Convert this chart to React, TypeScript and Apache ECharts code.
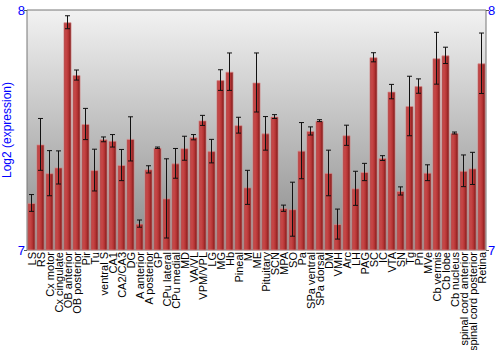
import React, { useEffect, useRef } from "react";
import * as echarts from "echarts";

const categories = [
  "LS", "RS", "Cx motor", "Cx cingulate", "OB anterior", "OB posterior", "Pir", "Tu",
  "ventral S", "CA1", "CA2/CA3", "DG", "A anterior", "A posterior", "GP", "CPu lateral",
  "CPu medial", "MD", "VA/VL", "VPM/VPL", "LG", "MG", "Hb", "Pineal", "M", "ME",
  "Pituitary", "SCN", "MPA", "SO", "Pa", "SPa ventral", "SPa dorsal", "DM", "VMH", "Arc",
  "LH", "PAG", "SC", "IC", "VTA", "SN", "Tg", "Pn", "MVe", "Cb vermis", "Cb lobe",
  "Cb nucleus", "spinal cord anterior", "spinal cord posterior", "Retina",
];

const values = [
  7.196, 7.44, 7.32, 7.344, 7.949, 7.729, 7.525, 7.333,
  7.461, 7.455, 7.354, 7.463, 7.11, 7.336, 7.426, 7.215,
  7.361, 7.424, 7.47, 7.54, 7.412, 7.708, 7.743, 7.52, 7.261, 7.698,
  7.486, 7.556, 7.174, 7.17, 7.414, 7.496, 7.539, 7.321, 7.108, 7.478,
  7.257, 7.325, 7.803, 7.383, 7.66, 7.246, 7.6, 7.683, 7.322, 7.799, 7.811,
  7.4875, 7.33, 7.34, 7.778,
];

const errors = [
  0.035, 0.108, 0.094, 0.069, 0.027, 0.021, 0.065, 0.087,
  0.01, 0.026, 0.065, 0.092, 0.015, 0.015, 0.003, 0.165,
  0.062, 0.05, 0.011, 0.021, 0.049, 0.043, 0.078, 0.033, 0.071, 0.123,
  0.07, 0.008, 0.013, 0.1125, 0.117, 0.017, 0.004, 0.095, 0.0625, 0.042,
  0.071, 0.036, 0.019, 0.01, 0.03, 0.017, 0.124, 0.03, 0.033, 0.108, 0.034,
  0.004, 0.066, 0.067, 0.126,
];

const yTicks = { min: 7, max: 8, interval: 1 };

export default function App() {
  const ref = useRef<HTMLDivElement>(null);
  useEffect(() => {
    if (!ref.current) return;
    const chart = echarts.init(ref.current, undefined, { renderer: "svg" });
    const errData = values.map((v, i) => [i, v - errors[i], v + errors[i]]);
    const font = "Liberation Sans, Arial, sans-serif";
    chart.setOption({
      animation: false,
      grid: {
        left: 27,
        right: 14,
        top: 10,
        bottom: 100,
        outerBoundsMode: "none",
        containLabel: false,
        show: true,
        borderColor: "#777",
        borderWidth: 1,
        backgroundColor: new echarts.graphic.LinearGradient(0, 0, 0, 1, [
          { offset: 0, color: "#f2f2f2" },
          { offset: 1, color: "#8a8a8a" },
        ]),
      },
      xAxis: {
        type: "category",
        data: categories,
        axisTick: { show: false },
        axisLine: { show: false },
        axisLabel: {
          rotate: 90,
          interval: 0,
          fontSize: 11,
          fontFamily: font,
          color: "#000",
          margin: 2,
        },
      },
      yAxis: [
        {
          type: "value",
          min: yTicks.min,
          max: yTicks.max,
          interval: yTicks.interval,
          name: "Log2 (expression)",
          nameLocation: "middle",
          nameGap: 14,
          nameMoveOverlap: false,
          nameTextStyle: { color: "#0000ff", fontSize: 12, fontFamily: font },
          axisLine: { show: false },
          axisTick: { show: true, length: 3, lineStyle: { color: "#555" } },
          splitLine: { show: false },
          axisLabel: { color: "#0000ff", fontSize: 13, margin: 2, fontFamily: font },
        },
        {
          type: "value",
          position: "right",
          min: yTicks.min,
          max: yTicks.max,
          interval: yTicks.interval,
          axisLine: { show: false },
          axisTick: { show: true, length: 3, lineStyle: { color: "#555" } },
          splitLine: { show: false },
          axisLabel: { color: "#0000ff", fontSize: 13, margin: 2, fontFamily: font },
        },
      ],
      series: [
        {
          type: "bar",
          data: values,
          barCategoryGap: "10%",
          itemStyle: {
            color: new echarts.graphic.LinearGradient(0, 0, 1, 0, [
              { offset: 0, color: "#a52a2a" },
              { offset: 0.25, color: "#c84a4a" },
              { offset: 0.6, color: "#b83636" },
              { offset: 1, color: "#7a1616" },
            ]),
            borderColor: "rgba(215,140,140,0.7)",
            borderWidth: 1,
          },
        },
        {
          type: "custom",
          data: errData,
          z: 10,
          renderItem: (params: any, api: any) => {
            const x = api.value(0);
            const lo = api.coord([x, api.value(1)]);
            const hi = api.coord([x, api.value(2)]);
            const w = 2.5;
            const style = { stroke: "#111", lineWidth: 1, fill: "none" };
            return {
              type: "group",
              children: [
                { type: "line", shape: { x1: lo[0], y1: lo[1], x2: hi[0], y2: hi[1] }, style },
                { type: "line", shape: { x1: lo[0] - w, y1: lo[1], x2: lo[0] + w, y2: lo[1] }, style },
                { type: "line", shape: { x1: hi[0] - w, y1: hi[1], x2: hi[0] + w, y2: hi[1] }, style },
              ],
            };
          },
        },
      ],
    });
    return () => chart.dispose();
  }, []);
  return (
    <div
      ref={ref}
      style={{ position: "absolute", left: 0, top: 0, width: 500, height: 350 }}
    />
  );
}
